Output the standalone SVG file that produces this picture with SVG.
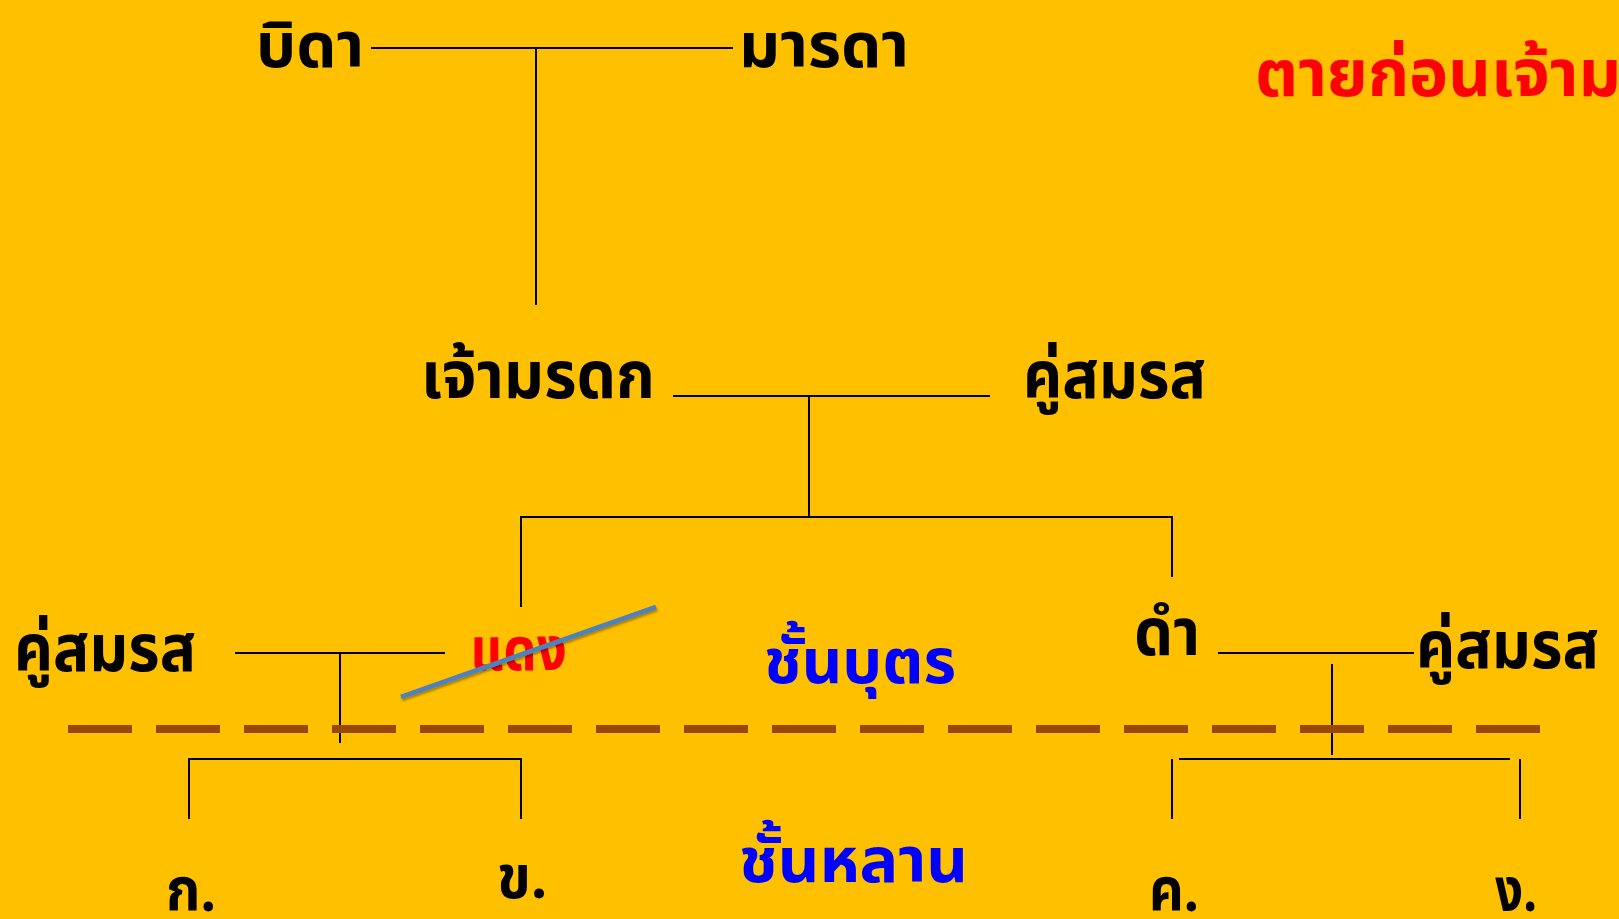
<svg xmlns="http://www.w3.org/2000/svg" width="1619" height="919" viewBox="0 0 1619 919">
<style>
.t{font-family:"Noto Sans","Noto Sans Thai","DejaVu Sans",sans-serif;font-weight:bold;}
.k{fill:#000000;font-size:66px;}
.top{font-size:62px;}
.sm{font-size:60px;}
.r{fill:#FF0000;font-size:60px;}
.b{fill:#0000FF;font-size:62px;}
.ln{stroke:#000000;stroke-width:2;fill:none;}
</style>
<defs>
<filter id="sh" x="-10%" y="-50%" width="120%" height="200%">
<feDropShadow dx="1" dy="2" stdDeviation="1.2" flood-color="#000000" flood-opacity="0.35"/>
</filter>
</defs>
<rect x="0" y="0" width="1619" height="919" fill="#FFC000"/>
<g id="connectors">
<path class="ln" d="M371 48H733M536 48V305"/>
<path class="ln" d="M673 396H990M809 396V517"/>
<path class="ln" d="M521 607V517H1172V577"/>
<path class="ln" d="M235 653H445M340 653V743"/>
<path class="ln" d="M1218 653H1414M1332 664V755"/>
<path class="ln" d="M189 819V759H521V819"/>
<path class="ln" d="M1179 759H1510M1172 759V819M1520 759V819"/>
<path d="M68 729H1540" stroke="#974806" stroke-width="8" stroke-dasharray="64 24" fill="none"/>
</g>
<g id="n-father"><text class="t k top" x="256" y="67" textLength="108" lengthAdjust="spacingAndGlyphs">บิดา</text></g>
<g id="n-mother"><text class="t k top" x="739" y="67" textLength="170" lengthAdjust="spacingAndGlyphs">มารดา</text></g>
<g id="n-note"><text class="t r" x="1255" y="96" style="font-size:66px">ตายก่อนเจ้ามรดก</text></g>
<g id="n-deceased"><text class="t k" x="421" y="398" textLength="234" lengthAdjust="spacingAndGlyphs">เจ้ามรดก</text></g>
<g id="n-spouse1"><text class="t k" x="1023" y="398" textLength="183" lengthAdjust="spacingAndGlyphs">คู่สมรส</text></g>
<g id="n-spouse2"><text class="t k" x="14" y="671" textLength="182" lengthAdjust="spacingAndGlyphs">คู่สมรส</text></g>
<g id="n-daeng"><text class="t r" x="470" y="670" textLength="97" lengthAdjust="spacingAndGlyphs">แดง</text>
<line x1="401" y1="697" x2="656" y2="607" stroke="#4F81BD" stroke-width="5" filter="url(#sh)"/></g>
<g id="n-children-level"><text class="t b" x="764" y="683" textLength="192" lengthAdjust="spacingAndGlyphs">ชั้นบุตร</text></g>
<g id="n-dam"><text class="t k" x="1134" y="655" textLength="66" lengthAdjust="spacingAndGlyphs">ดำ</text></g>
<g id="n-spouse3"><text class="t k" x="1416" y="668" textLength="183" lengthAdjust="spacingAndGlyphs">คู่สมรส</text></g>
<g id="n-grand-level"><text class="t b" x="739" y="882" textLength="229" lengthAdjust="spacingAndGlyphs">ชั้นหลาน</text></g>
<g id="n-ka"><text class="t k sm" x="166" y="911" textLength="50" lengthAdjust="spacingAndGlyphs">ก.</text></g>
<g id="n-kha"><text class="t k sm" x="497" y="898" textLength="50" lengthAdjust="spacingAndGlyphs">ข.</text></g>
<g id="n-kho"><text class="t k sm" x="1149" y="911" textLength="50" lengthAdjust="spacingAndGlyphs">ค.</text></g>
<g id="n-ngo"><text class="t k sm" x="1495" y="911" textLength="42" lengthAdjust="spacingAndGlyphs">ง.</text></g>
</svg>
